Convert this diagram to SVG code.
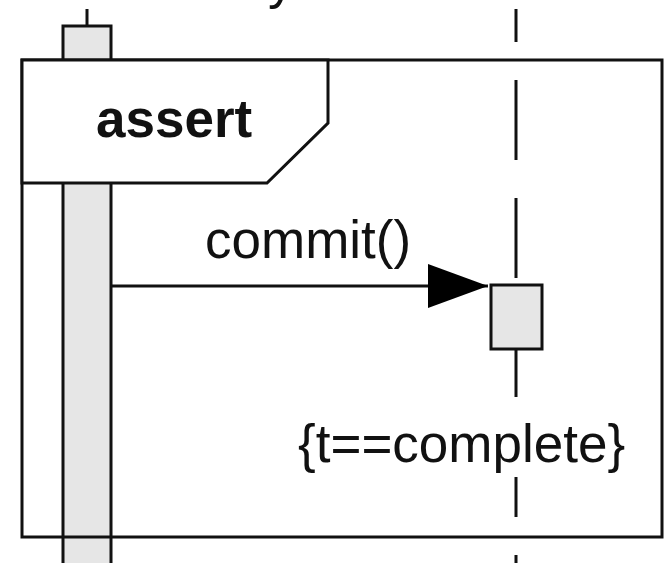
<svg xmlns="http://www.w3.org/2000/svg" width="665" height="563" viewBox="0 0 665 563">
<style>
.ln{stroke:#111;stroke-width:3;fill:none}
.act{fill:#e6e6e6;stroke:#111;stroke-width:3}
.t{font-family:"Liberation Sans",Arial,sans-serif;font-size:53px;fill:#111}
</style>
<defs>
<marker id="ah" markerWidth="60" markerHeight="44" refX="60" refY="22" orient="auto" markerUnits="userSpaceOnUse">
<path d="M0,0 L60,22 L0,44 Z" fill="#000"/>
</marker>
</defs>
<rect width="665" height="563" fill="#fff"/>
<text class="t" x="268" y="-2" font-size="48">y</text>
<g id="lifeline-left">
<line class="ln" x1="87" y1="9" x2="87" y2="25"/>
<rect class="act" x="63" y="26" width="48" height="545"/>
</g>
<g id="lifeline-right">
<path class="ln" d="M516,9V42M516,80V160M516,198V278M516,350V397M516,477V517M516,555V563"/>
</g>
<g id="frame">
<rect x="22" y="60" width="640" height="477" fill="none" stroke="#111" stroke-width="3"/>
<path d="M22,60H328V123L267,183H22Z" fill="#fff" stroke="#111" stroke-width="3"/>
<text class="t" x="96" y="137" font-weight="bold" font-size="54.5">assert</text>
</g>
<g id="activation-right">
<rect class="act" x="491" y="285" width="51" height="64"/>
</g>
<g id="connectors">
<line class="ln" x1="112" y1="286" x2="488" y2="286" marker-end="url(#ah)"/>
<text class="t" x="205" y="258">commit()</text>
</g>
<g id="constraint">
<text class="t" x="298" y="462" font-size="54.5">{t==complete}</text>
</g>
</svg>
